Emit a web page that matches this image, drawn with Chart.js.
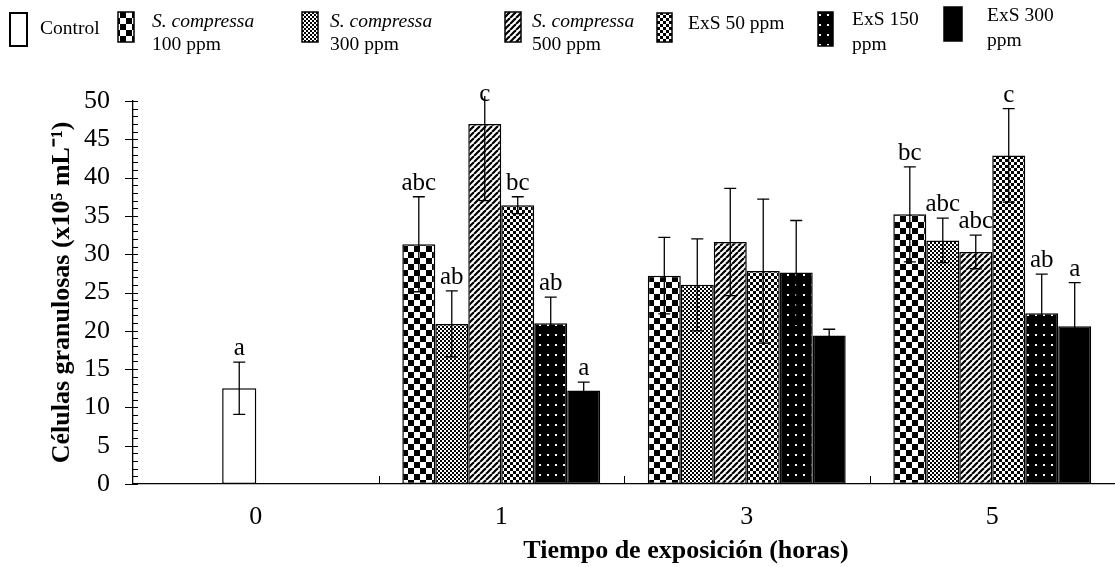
<!DOCTYPE html>
<html>
<head>
<meta charset="utf-8">
<script src="https://cdn.jsdelivr.net/npm/chart.js@4/dist/chart.umd.min.js"></script>
<style>
  html, body { margin: 0; padding: 0; background: #fff; }
  #wrap { position: relative; width: 1115px; height: 567px; }
</style>
</head>
<body>
<div id="wrap"><canvas id="chart"></canvas></div>
<script>
/* Granulosa cell counts by exposure time, patterned bars with SD whiskers. */
(function () {
  "use strict";

  var SERIF = '"Liberation Serif", "Times New Roman", serif';

  var hours = ["0", "1", "3", "5"];

  var seriesLabels = [
    ["Control"],
    ["S. compressa", "100 ppm"],
    ["S. compressa", "300 ppm"],
    ["S. compressa", "500 ppm"],
    ["ExS 50 ppm"],
    ["ExS 150", "ppm"],
    ["ExS 300", "ppm"]
  ];

  var control = [12.5, null, null, null];
  var sc100   = [null, 31.3, 27.2, 35.2];
  var sc300   = [null, 20.9, 26.0, 31.8];
  var sc500   = [null, 47.0, 31.6, 30.3];
  var exs50   = [null, 36.4, 27.8, 42.9];
  var exs150  = [null, 21.0, 27.6, 22.3];
  var exs300  = [null, 12.2, 19.4, 20.6];

  var controlSd = [3.4, null, null, null];
  var sc100Sd   = [null, 6.2, 5.0, 6.2];
  var sc300Sd   = [null, 4.3, 6.0, 2.9];
  var sc500Sd   = [null, 10.0, 7.0, 2.2];
  var exs50Sd   = [null, 1.1, 9.4, 6.1];
  var exs150Sd  = [null, 3.4, 6.8, 5.1];
  var exs300Sd  = [null, 1.1, 0.8, 5.7];

  var controlLetters = ["a", "", "", ""];
  var sc100Letters   = ["", "abc", "", "bc"];
  var sc300Letters   = ["", "ab", "", "abc"];
  var sc500Letters   = ["", "c", "", "abc"];
  var exs50Letters   = ["", "bc", "", "c"];
  var exs150Letters  = ["", "ab", "", "ab"];
  var exs300Letters  = ["", "a", "", "a"];

  var yMin = 0, yMax = 50, yStep = 5, yMinorStep = 1;

  // small repeating tiles used as bar fills
  function tile(w, h, paint) {
    var c = document.createElement("canvas");
    c.width = w;
    c.height = h;
    var g = c.getContext("2d");
    g.fillStyle = "#fff";
    g.fillRect(0, 0, w, h);
    g.fillStyle = "#000";
    g.strokeStyle = "#000";
    paint(g, w, h);
    return g.createPattern(c, "repeat");
  }

  function checker(cell) {
    return tile(cell * 2, cell * 2, function (g) {
      g.fillRect(0, 0, cell, cell);
      g.fillRect(cell, cell, cell, cell);
    });
  }

  var fills = [
    "#fff",
    checker(6),
    checker(2),
    tile(6, 6, function (g) {
      g.lineWidth = 2.2;
      [-6, 0, 6].forEach(function (k) {
        g.beginPath();
        g.moveTo(k, 6);
        g.lineTo(k + 6, 0);
        g.stroke();
      });
    }),
    checker(3),
    tile(8, 10, function (g) {
      g.fillRect(0, 0, 8, 10);
      g.fillStyle = "#fff";
      g.fillRect(3, 4, 2, 2);
    }),
    "#000"
  ];

  var values = [control, sc100, sc300, sc500, exs50, exs150, exs300];
  var sds = [controlSd, sc100Sd, sc300Sd, sc500Sd, exs50Sd, exs150Sd, exs300Sd];
  var letters = [controlLetters, sc100Letters, sc300Letters, sc500Letters,
                 exs50Letters, exs150Letters, exs300Letters];

  var datasets = values.map(function (data, i) {
    var ds = {
      label: seriesLabels[i].join(" "),
      data: data,
      sd: sds[i],
      letters: letters[i],
      backgroundColor: fills[i],
      borderColor: "#000",
      borderWidth: 1.5,
      borderSkipped: false,
      categoryPercentage: 0.806,
      barPercentage: 1.0,
      skipNull: true
    };
    if (i === 0) {
      // control keeps the first of seven slots in hour 0, so it sits left of centre
      ds.skipNull = false;
      ds.categoryPercentage = 0.157;
      ds.barPercentage = 6.2;
    }
    return ds;
  });

  var errorBars = {
    id: "errorBars",
    afterDatasetsDraw: function (chart) {
      var ctx = chart.ctx, area = chart.chartArea, y = chart.scales.y;
      ctx.save();
      ctx.strokeStyle = "#000";
      ctx.lineWidth = 1.3;
      chart.data.datasets.forEach(function (ds, i) {
        chart.getDatasetMeta(i).data.forEach(function (bar, j) {
          var v = ds.data[j], sd = ds.sd[j];
          if (v == null || sd == null) return;
          var top = y.getPixelForValue(v + sd);
          var bot = y.getPixelForValue(v - sd);
          var clipped = top < area.top;
          var t = clipped ? area.top - 5 : top;
          ctx.beginPath();
          ctx.moveTo(bar.x, t);
          ctx.lineTo(bar.x, bot);
          ctx.moveTo(bar.x - 6, bot);
          ctx.lineTo(bar.x + 6, bot);
          if (!clipped) {
            ctx.moveTo(bar.x - 6, top);
            ctx.lineTo(bar.x + 6, top);
          }
          ctx.stroke();
        });
      });
      ctx.restore();
    }
  };

  var groupLetters = {
    id: "groupLetters",
    afterDatasetsDraw: function (chart) {
      var ctx = chart.ctx, area = chart.chartArea, y = chart.scales.y;
      ctx.save();
      ctx.fillStyle = "#000";
      ctx.font = "25px " + SERIF;
      ctx.textAlign = "center";
      ctx.textBaseline = "alphabetic";
      chart.data.datasets.forEach(function (ds, i) {
        chart.getDatasetMeta(i).data.forEach(function (bar, j) {
          var txt = ds.letters[j];
          if (!txt || ds.data[j] == null) return;
          var top = y.getPixelForValue(ds.data[j] + (ds.sd[j] || 0));
          ctx.fillText(txt, bar.x, Math.max(top - 7, area.top));
        });
      });
      ctx.restore();
    }
  };

  // minor ticks on the value axis and short category separators on the base
  var axisMarks = {
    id: "axisMarks",
    afterDraw: function (chart) {
      var ctx = chart.ctx, area = chart.chartArea;
      var y = chart.scales.y, x = chart.scales.x;
      ctx.save();
      ctx.strokeStyle = "#000";
      ctx.lineWidth = 1;
      ctx.beginPath();
      for (var v = yMin; v <= yMax; v += yMinorStep) {
        var py = Math.round(y.getPixelForValue(v)) + 0.5;
        var major = v % yStep === 0;
        ctx.moveTo(area.left - (major ? 8 : 0), py);
        ctx.lineTo(area.left + 5, py);
      }
      for (var i = 1; i < hours.length; i++) {
        var px = Math.round((x.getPixelForValue(i - 1) + x.getPixelForValue(i)) / 2) + 0.5;
        ctx.moveTo(px, area.bottom);
        ctx.lineTo(px, area.bottom - 8);
      }
      ctx.stroke();

      ctx.fillStyle = "#000";
      ctx.font = "bold 26px " + SERIF;
      ctx.textAlign = "center";
      ctx.textBaseline = "middle";
      ctx.fillText("Tiempo de exposición (horas)", 686, 551);
      ctx.restore();
    }
  };

  var legendSlots = [
    { box: [10, 13, 17, 33], tx: 40, lines: [34] },
    { box: [118, 12, 16, 30], tx: 152, lines: [27, 50] },
    { box: [302, 12, 16, 30], tx: 330, lines: [27, 50] },
    { box: [505, 12, 16, 30], tx: 532, lines: [27, 50] },
    { box: [657, 13, 15, 29], tx: 688, lines: [29] },
    { box: [818, 12, 15, 34], tx: 852, lines: [25, 50] },
    { box: [944, 7, 18, 34], tx: 987, lines: [21, 46] }
  ];

  var patternLegend = {
    id: "patternLegend",
    afterDraw: function (chart) {
      var ctx = chart.ctx;
      ctx.save();
      ctx.textAlign = "left";
      ctx.textBaseline = "alphabetic";
      legendSlots.forEach(function (slot, i) {
        var b = slot.box;
        ctx.fillStyle = fills[i];
        ctx.fillRect(b[0], b[1], b[2], b[3]);
        ctx.strokeStyle = "#000";
        ctx.lineWidth = i === 0 ? 2 : 1.5;
        ctx.strokeRect(b[0], b[1], b[2], b[3]);
        ctx.fillStyle = "#000";
        seriesLabels[i].forEach(function (line, k) {
          var italic = line.indexOf("S. ") === 0;
          ctx.font = (italic ? "italic " : "") + "19.5px " + SERIF;
          ctx.fillText(line, slot.tx, slot.lines[k]);
        });
      });
      ctx.restore();
    }
  };

  new Chart(document.getElementById("chart"), {
    type: "bar",
    data: { labels: hours, datasets: datasets },
    plugins: [errorBars, groupLetters, axisMarks, patternLegend],
    options: {
      responsive: true,
      maintainAspectRatio: false,
      animation: false,
      layout: { padding: { top: 101, left: 0, right: 0, bottom: 0 } },
      plugins: {
        legend: { display: false },
        tooltip: { enabled: false }
      },
      scales: {
        x: {
          afterFit: function (scale) { scale.height = 83; },
          grid: { display: false, drawTicks: false },
          border: { display: true, color: "#000", width: 1.3 },
          ticks: { color: "#000", padding: 18, font: { family: SERIF, size: 26 } }
        },
        y: {
          min: yMin,
          max: yMax,
          afterFit: function (scale) { scale.width = 133; },
          grid: { display: false, drawTicks: false },
          border: { display: true, color: "#000", width: 1.3 },
          ticks: { stepSize: yStep, color: "#000", padding: 23, font: { family: SERIF, size: 26 } },
          title: {
            display: true,
            text: "Células granulosas (x10⁵ mL⁻¹)",
            color: "#000",
            padding: { top: 47, bottom: 0 },
            font: { family: SERIF, size: 26, weight: "bold" }
          }
        }
      }
    }
  });
})();
</script>
</body>
</html>
